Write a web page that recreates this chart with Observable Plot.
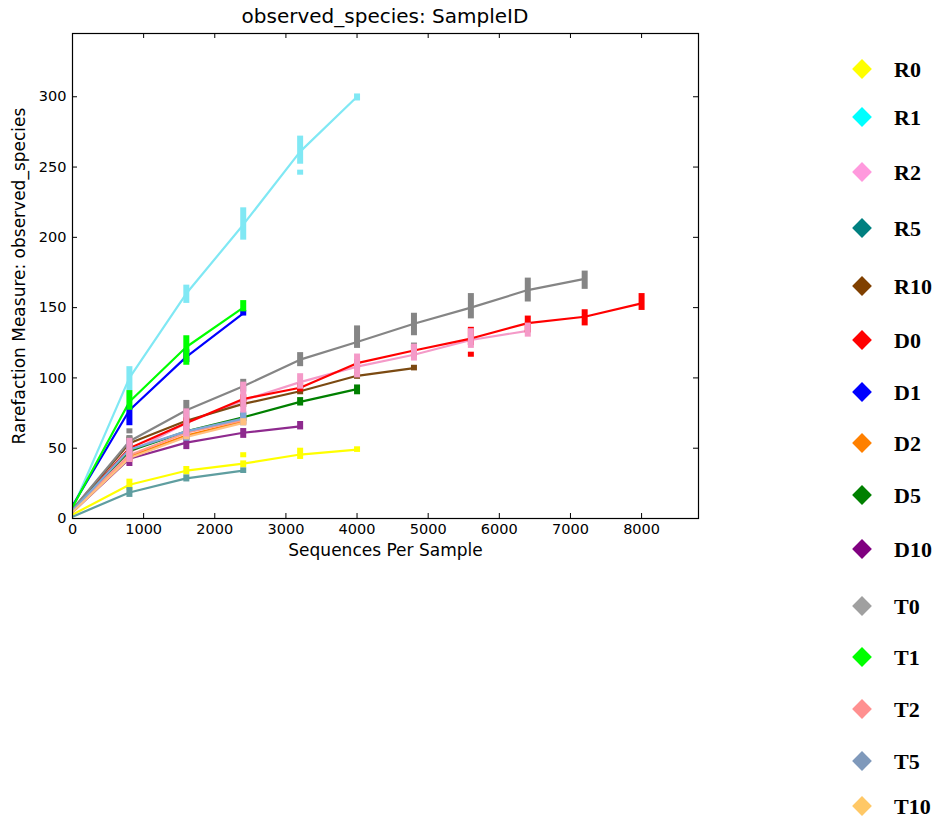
<!DOCTYPE html>
<html><head><meta charset="utf-8">
<script src="https://cdn.jsdelivr.net/npm/d3@7"></script>
<script src="https://cdn.jsdelivr.net/npm/@observablehq/plot@0.6"></script>
<style>
body{margin:0;background:#fff;}
#wrap{position:relative;width:939px;height:821px;overflow:hidden;background:#fff;}
#chart{position:absolute;left:0;top:0;}
#title{position:absolute;left:72px;width:626px;top:4px;text-align:center;font:20px "DejaVu Sans";color:#000;white-space:nowrap;}
.dm{position:absolute;width:14px;height:14px;transform:rotate(45deg);}
.lt{position:absolute;font:bold 22px "Liberation Serif","Times New Roman",serif;color:#000;line-height:1;white-space:nowrap;}
</style></head><body>
<div id="wrap"><div id="chart"></div><div id="title">observed_species: SampleID</div><div id="lgbox"></div></div>
<script>
// ---- data ----
const depths = [10, 800, 1600, 2400, 3200, 4000, 4800, 5600, 6400, 7200, 8000];
const seriesNames = ["R0","R1","R2","R5","R10","D0","D1","D2","D5","D10","T0","T1","T2","T5","T10"];
const lineColors = ["#ffff00","#80e8f4","#f49ac8","#5f9ea0","#7b4a12","#ff0000","#0000ff","#ff8000","#008000","#8e2a8e","#858585","#00ff00","#ff9a8a","#7fa6d8","#ffc080"];
const legendColors = ["#ffff00","#00ffff","#ff99dd","#008080","#804000","#ff0000","#0000ff","#ff8000","#008000","#800080","#a0a0a0","#00ff00","#ff9090","#7f99bb","#ffc866"];
const xTicks = [0,1000,2000,3000,4000,5000,6000,7000,8000];
const yTicks = [0,50,100,150,200,250,300];

// means per depth
const R0  = [3, 24, 34, 39, 45.5, 49];
const R1  = [8, 100, 160, 209, 261, 300];
const R2  = [6, 47, 68, 84, 97, 108, 116.5, 127, 133.5];
const R5  = [1.5, 18.5, 28.5, 34];
const R10 = [7, 53.5, 69.5, 81.5, 90.5, 101.5, 107];
const D0  = [6, 50, 68, 85, 93, 110.5, 119.5, 128, 139, 143.5, 153];
const D1  = [10, 77, 115, 146];
const D2  = [6, 44, 59, 69];
const D5  = [7, 48, 62, 72, 83, 92];
const D10 = [5, 42.5, 54, 61, 65.5];
const T0  = [7, 55, 77, 94, 113, 125.5, 138.5, 150, 162.5, 170.5];
const T1  = [9, 83, 122, 150];
const T2  = [6, 45, 61, 70];
const T5  = [6, 49, 62, 71];
const T10 = [5, 43, 58, 68];
// error bar low / high per depth (first depth has none)
const R0_lo  = [null, 20, 31, 36, 42, 47];   const R0_hi  = [null, 28, 37, 41, 50, 51];
const R1_lo  = [null, 91, 153, 198, 252, 297]; const R1_hi  = [null, 108, 166, 221, 272, 302];
const R2_lo  = [null, 40, 58, 75, 92, 100, 112, 121, 129]; const R2_hi = [null, 57, 78, 97, 103, 117, 124, 135, 139];
const R5_lo  = [null, 15, 26, 32];  const R5_hi  = [null, 22, 31, 36];
const R10_lo = [null, 50, 67, 79, 88, 99, 105]; const R10_hi = [null, 58, 72, 84, 94, 104, 109];
const D0_lo  = [null, 47, 65, 82, 90, 106, 115, 123, 132, 137, 148]; const D0_hi = [null, 53, 71, 88, 96, 113, 123, 136, 144, 148.5, 160];
const D1_lo  = [null, 66, 111, 144]; const D1_hi  = [null, 80, 120, 148];
const D2_lo  = [null, 41, 56, 67];  const D2_hi  = [null, 47, 62, 71];
const D5_lo  = [null, 45, 60, 69, 80, 88]; const D5_hi = [null, 51, 64, 75, 86, 95];
const D10_lo = [null, 37, 49, 57, 63]; const D10_hi = [null, 46, 57, 64, 69];
const T0_lo  = [null, 52, 72, 90, 108, 121, 130, 142, 154, 163]; const T0_hi = [null, 59, 84, 99, 118, 137, 146, 160, 171, 176];
const T1_lo  = [null, 77, 109, 147]; const T1_hi  = [null, 91, 130, 155];
const T2_lo  = [null, 40, 57, 66];  const T2_hi  = [null, 50, 65, 73];
const T5_lo  = [null, 45, 55, 66];  const T5_hi  = [null, 55, 66, 76];
const T10_lo = [null, 40, 56, 66];  const T10_hi = [null, 47, 61, 71];
// detached error-bar caps
const capSeries = ["R1", "D0", "R0", "T0", "T0"];
const capX      = [3200, 5600, 2400, 800, 4800];
const capY      = [246, 116.5, 45, 62, 123];

const seriesData = [
  [R0, R0_lo, R0_hi], [R1, R1_lo, R1_hi], [R2, R2_lo, R2_hi], [R5, R5_lo, R5_hi], [R10, R10_lo, R10_hi],
  [D0, D0_lo, D0_hi], [D1, D1_lo, D1_hi], [D2, D2_lo, D2_hi], [D5, D5_lo, D5_hi], [D10, D10_lo, D10_hi],
  [T0, T0_lo, T0_hi], [T1, T1_lo, T1_hi], [T2, T2_lo, T2_hi], [T5, T5_lo, T5_hi], [T10, T10_lo, T10_hi]
];

const rows = [];
seriesNames.forEach((name, i) => {
  const [m, lo, hi] = seriesData[i];
  m.forEach((v, j) => rows.push({series: name, x: depths[j], y: v, lo: lo[j], hi: hi[j]}));
});
const errRows = rows.filter(d => d.lo != null && d.series !== "R2");
const errTop = rows.filter(d => d.lo != null && d.series === "R2");
const caps = capSeries.map((s, i) => ({series: s, x: capX[i], lo: capY[i] - 1.8, hi: capY[i] + 1.8}));

// ---- layout ----
const W = 720, H = 570, mL = 72, mR = 22, mT = 33, mB = 52;
const fw = W - mL - mR, fh = H - mT - mB, tk = 5;
const legendTops = [69, 117, 172, 228, 286, 340, 392, 443, 495, 549, 606, 657, 709, 761, 806];

const chart = Plot.plot({
  width: W, height: H,
  marginLeft: mL, marginRight: mR, marginTop: mT, marginBottom: mB,
  style: {fontFamily: "DejaVu Sans, sans-serif", fontSize: "14px", color: "#000", background: "#fff", overflow: "visible"},
  x: {domain: [0, 8800]},
  y: {domain: [0, 345]},
  color: {domain: seriesNames, range: lineColors},
  marks: [
    Plot.line(rows, {x: "x", y: "y", z: "series", stroke: "series", strokeWidth: 2.2}),
    Plot.ruleX(errRows, {x: "x", y1: "lo", y2: "hi", stroke: "series", strokeWidth: 6}),
    Plot.ruleX(caps, {x: "x", y1: "lo", y2: "hi", stroke: "series", strokeWidth: 6}),
    Plot.ruleX(errTop, {x: "x", y1: "lo", y2: "hi", stroke: "series", strokeWidth: 6}),
    Plot.frame({stroke: "#000", strokeWidth: 1.2}),
    Plot.ruleX(xTicks.slice(1), {x: d => d, stroke: "#000", insetTop: fh - tk}),
    Plot.ruleX(xTicks.slice(1), {x: d => d, stroke: "#000", insetBottom: fh - tk}),
    Plot.ruleY(yTicks.slice(1), {y: d => d, stroke: "#000", insetRight: fw - tk}),
    Plot.ruleY(yTicks.slice(1), {y: d => d, stroke: "#000", insetLeft: fw - tk}),
    Plot.axisX({ticks: xTicks, tickSize: 0, tickPadding: 5, tickFormat: d => String(d),
      label: "Sequences Per Sample", labelAnchor: "center", labelArrow: "none", labelOffset: 37, fontSize: 14.5}),
    Plot.axisY({ticks: yTicks, tickSize: 0, tickPadding: 6, tickFormat: d => String(d),
      label: "Rarefaction Measure: observed_species", labelAnchor: "center", labelArrow: "none", labelOffset: 60, fontSize: 14.5})
  ]
});
document.getElementById("chart").appendChild(chart);
chart.querySelectorAll("g[aria-label='x-axis label'] text, g[aria-label='y-axis label'] text").forEach(t => t.setAttribute("font-size", "17px"));

// ---- legend ----
const box = document.getElementById("lgbox");
seriesNames.forEach((name, i) => {
  const cy = legendTops[i];
  const d = document.createElement("div");
  d.className = "dm";
  d.style.background = legendColors[i];
  d.style.left = (862 - 7) + "px";
  d.style.top = (cy - 7) + "px";
  box.appendChild(d);
  const t = document.createElement("div");
  t.className = "lt";
  t.textContent = name;
  t.style.left = "894px";
  t.style.top = (cy - 10) + "px";
  box.appendChild(t);
});
</script>
</body></html>
